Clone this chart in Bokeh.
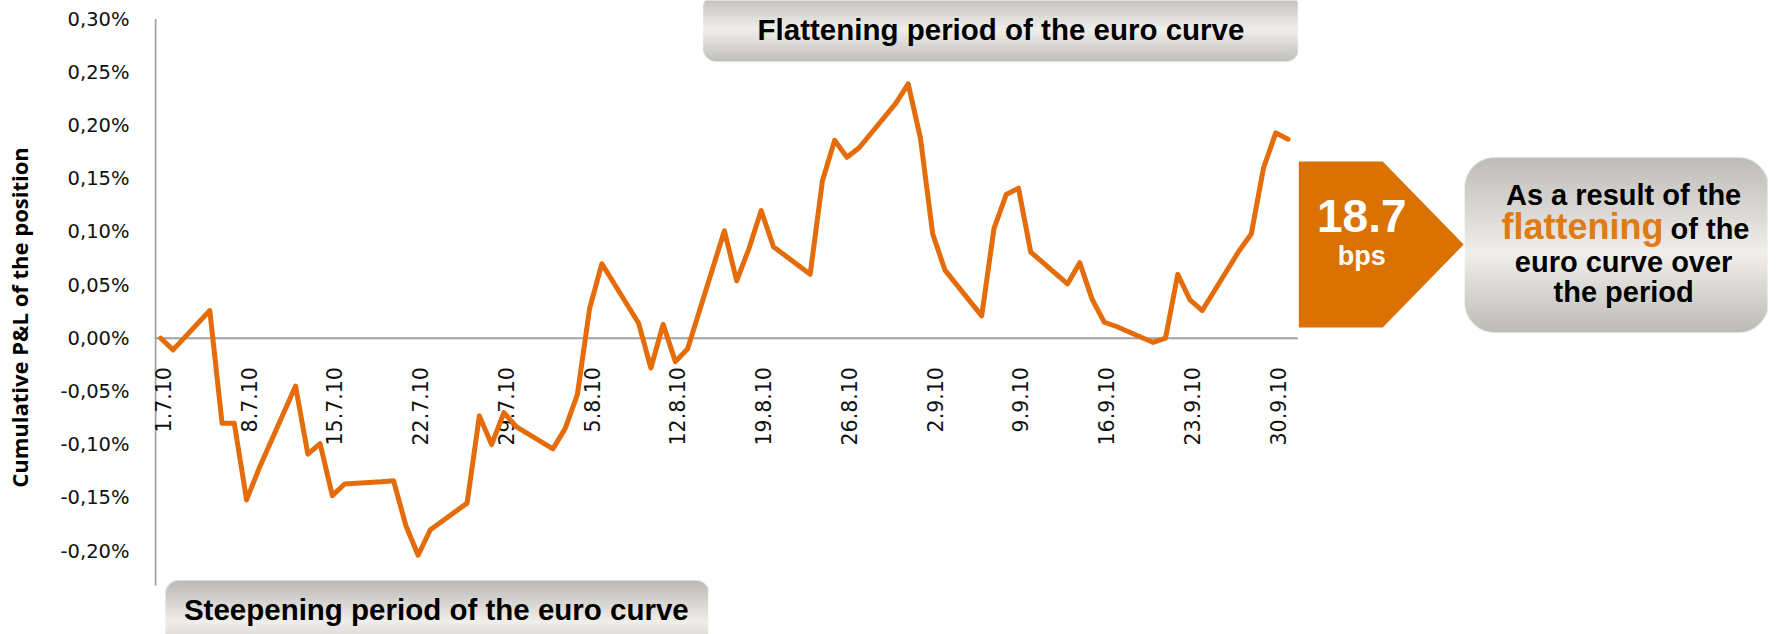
import numpy as np
import pandas as pd
from bokeh.plotting import figure
from bokeh.models import Range1d, FixedTicker, CustomJSTickFormatter
from bokeh.core.properties import value
from bokeh.embed import file_html
from bokeh.resources import INLINE

# ---------------- data ----------------
dates = [
    "2010-07-01", "2010-07-02", "2010-07-05", "2010-07-06", "2010-07-07", "2010-07-08", "2010-07-09",
    "2010-07-12", "2010-07-13", "2010-07-14", "2010-07-15", "2010-07-16",
    "2010-07-19", "2010-07-20", "2010-07-21", "2010-07-22", "2010-07-23",
    "2010-07-26", "2010-07-27", "2010-07-28", "2010-07-29", "2010-07-30",
    "2010-08-02", "2010-08-03", "2010-08-04", "2010-08-05", "2010-08-06",
    "2010-08-09", "2010-08-10", "2010-08-11", "2010-08-12", "2010-08-13",
    "2010-08-16", "2010-08-17", "2010-08-18", "2010-08-19", "2010-08-20",
    "2010-08-23", "2010-08-24", "2010-08-25", "2010-08-26", "2010-08-27",
    "2010-08-30", "2010-08-31", "2010-09-01", "2010-09-02", "2010-09-03",
    "2010-09-06", "2010-09-07", "2010-09-08", "2010-09-09", "2010-09-10",
    "2010-09-13", "2010-09-14", "2010-09-15", "2010-09-16", "2010-09-17",
    "2010-09-20", "2010-09-21", "2010-09-22", "2010-09-23", "2010-09-24",
    "2010-09-27", "2010-09-28", "2010-09-29", "2010-09-30", "2010-10-01",
]
pnl = [  # cumulative P&L in %
    0.000, -0.011, 0.026, -0.080, -0.080, -0.152, -0.123,
    -0.045, -0.109, -0.099, -0.148, -0.137,
    -0.135, -0.134, -0.176, -0.204, -0.180,
    -0.155, -0.073, -0.100, -0.070, -0.083,
    -0.104, -0.085, -0.053, 0.028, 0.070,
    0.014, -0.028, 0.013, -0.022, -0.010,
    0.101, 0.054, 0.084, 0.120, 0.086,
    0.060, 0.148, 0.186, 0.170, 0.179,
    0.221, 0.239, 0.188, 0.098, 0.064,
    0.021, 0.103, 0.135, 0.141, 0.081,
    0.051, 0.071, 0.037, 0.015, 0.011,
    -0.004, 0.000, 0.060, 0.036, 0.026,
    0.082, 0.098, 0.160, 0.193, 0.187,
]
tick_dates = ["2010-07-01", "2010-07-08", "2010-07-15", "2010-07-22", "2010-07-29",
              "2010-08-05", "2010-08-12", "2010-08-19", "2010-08-26", "2010-09-02",
              "2010-09-09", "2010-09-16", "2010-09-23", "2010-09-30"]
tick_labels = ["1.7.10", "8.7.10", "15.7.10", "22.7.10", "29.7.10", "5.8.10", "12.8.10",
               "19.8.10", "26.8.10", "2.9.10", "9.9.10", "16.9.10", "23.9.10", "30.9.10"]
y_ticks = [-0.20, -0.15, -0.10, -0.05, 0.00, 0.05, 0.10, 0.15, 0.20, 0.25, 0.30]

y_title = "Cumulative P&L of the position"
top_box_text = "Flattening period of the euro curve"
bottom_box_text = "Steepening period of the euro curve"
result_value = "18.7"
result_unit = "bps"
note_lines = ["As a result of the", "flattening", "of the", "euro curve over", "the period"]

# ---------------- geometry (page pixels -> data) ----------------
W, H = 1779, 634
LEFT = 153                     # left panel (y axis)
PAGE = 0                       # offset of the canvas in the page
ORIGIN = pd.Timestamp(dates[0])
X0_PX, PX_PER_DAY = 159.3, 12.26     # page x of first date, px per day
Y0_PX, PX_PER_PCT = 337.7, 1064.0    # page y of 0 %, px per 1 %


def X(px):
    return (px - X0_PX) / PX_PER_DAY


def Y(py):
    return (Y0_PX - py) / PX_PER_PCT


days = [(pd.Timestamp(d) - ORIGIN).days for d in dates]
tick_days = [(pd.Timestamp(d) - ORIGIN).days for d in tick_dates]

x_rng = Range1d(X(PAGE + LEFT), X(PAGE + W))
y_rng = Range1d(Y(PAGE + H), Y(PAGE))

p = figure(width=W, height=H, output_backend="svg", toolbar_location=None,
           x_range=x_rng, y_range=y_rng, x_axis_location=None,
           min_border_left=LEFT, min_border_right=0, min_border_top=0, min_border_bottom=0)
p.grid.visible = False
p.outline_line_color = None
p.background_fill_color = "white"

ax = p.yaxis[0]
ax.ticker = FixedTicker(ticks=y_ticks)
ax.formatter = CustomJSTickFormatter(code="return tick.toFixed(2).replace('.', ',') + '%';")
ax.axis_line_color = None
ax.major_tick_line_color = None
ax.minor_tick_line_color = None
ax.major_tick_out = 0
ax.major_tick_in = 0
ax.major_label_standoff = 25
ax.major_label_text_font = "DejaVu Sans"
ax.major_label_text_font_size = "19.5px"
ax.major_label_text_color = "#111111"
ax.axis_label = y_title
ax.axis_label_text_font = "Open Sans"
ax.axis_label_text_font_style = "bold"
ax.axis_label_text_font_size = "22px"
ax.axis_label_text_color = "#000000"
ax.axis_label_standoff = 24

GREY_AX = "#A0A0A0"
# y axis line and zero line
p.segment(x0=[X(154)], y0=[Y(585)], x1=[X(154)], y1=[y_ticks[-1]], line_color=GREY_AX, line_width=2)
p.segment(x0=[X(153)], y0=[0], x1=[X(1297)], y1=[0], line_color=GREY_AX, line_width=2)

# x tick labels (rotated)
p.text(x=tick_days, y=[0] * len(tick_days), text=tick_labels, angle=np.pi / 2,
       text_align="right", text_baseline="middle", x_offset=2, y_offset=29,
       text_font=value("DejaVu Sans"), text_font_size="20.5px", text_color="#111111")

# P&L line
p.line(days, pnl, line_color="#E46C0A", line_width=5, line_join="round", line_cap="round")


# --------------- gradient boxes ---------------
def grad_box(w, h, r, top, mid, bot, mid_pos=0.5):
    yy = np.arange(h) + 0.5
    t = yy / h
    top, mid, bot = (np.array(c, float) for c in (top, mid, bot))
    cols = np.where((t < mid_pos)[:, None],
                    top + (mid - top) * (t / mid_pos)[:, None],
                    mid + (bot - mid) * ((t - mid_pos) / (1 - mid_pos))[:, None])
    img = np.zeros((h, w, 4), dtype=np.uint8)
    img[..., :3] = np.clip(cols, 0, 255)[:, None, :].astype(np.uint8)
    xx = np.arange(w) + 0.5
    XX, YY = np.meshgrid(xx, yy)
    cx = np.clip(XX, r, w - r)
    cy = np.clip(YY, r, h - r)
    d = np.sqrt((XX - cx) ** 2 + (YY - cy) ** 2)
    a = np.clip(r - d + 0.5, 0, 1)
    img[..., 3] = (a * 255).astype(np.uint8)
    img = np.ascontiguousarray(np.flipud(img))
    return img.view(np.uint32).reshape(h, w)


def add_box(l, t, r_, b, rad, top, mid, bot, mid_pos=0.5):
    w, h = int(round(r_ - l)), int(round(b - t))
    img = grad_box(w, h, rad, top, mid, bot, mid_pos)
    p.image_rgba(image=[img], x=X(l), y=Y(b), dw=X(r_) - X(l), dh=Y(t) - Y(b))


DARK = (190, 189, 185)
LIGHT = (241, 239, 235)
add_box(702, -6, 1297, 61, 13, DARK, LIGHT, (192, 191, 187), 0.52)
add_box(164, 580, 707, 662, 13, (186, 185, 181), LIGHT, DARK, 0.5)
add_box(1464, 157, 1767, 332, 30, DARK, LIGHT, (189, 188, 184), 0.55)

BOLD = dict(text_font=value("Liberation Sans"), text_font_style="bold", text_baseline="middle")
p.text(x=[X(1000)], y=[Y(28.5)], text=[top_box_text], text_align="center",
       text_font_size="29.5px", text_color="#000000", **BOLD)
p.text(x=[X(435)], y=[Y(609)], text=[bottom_box_text], text_align="center",
       text_font_size="29.5px", text_color="#000000", **BOLD)

# orange arrow
ORANGE = "#DA7100"
p.patch(x=[X(1298), X(1382), X(1463), X(1382), X(1298)],
        y=[Y(161), Y(161), Y(244), Y(327), Y(327)], fill_color=ORANGE, line_color=None)
p.text(x=[X(1361)], y=[Y(215.5)], text=[result_value], text_align="center",
       text_font_size="46px", text_color="white", **BOLD)
p.text(x=[X(1361)], y=[Y(255)], text=[result_unit], text_align="center",
       text_font_size="27px", text_color="white", **BOLD)

# note box text
p.text(x=[X(1623)], y=[Y(194)], text=[note_lines[0]], text_align="center",
       text_font_size="29px", text_color="#000000", **BOLD)
p.text(x=[X(1663)], y=[Y(225.5)], text=[note_lines[1]], text_align="right",
       text_font_size="36px", text_color="#E07A12", **BOLD)
p.text(x=[X(1670)], y=[Y(228)], text=[note_lines[2]], text_align="left",
       text_font_size="29px", text_color="#000000", **BOLD)
p.text(x=[X(1623)], y=[Y(261.5)], text=[note_lines[3]], text_align="center",
       text_font_size="29px", text_color="#000000", **BOLD)
p.text(x=[X(1623)], y=[Y(291)], text=[note_lines[4]], text_align="center",
       text_font_size="29px", text_color="#000000", **BOLD)

open("out.html", "w").write(file_html(p, INLINE))
